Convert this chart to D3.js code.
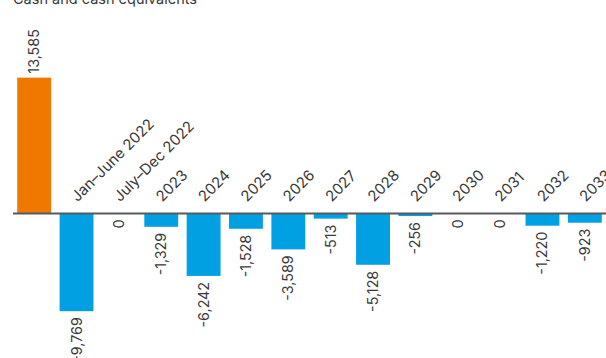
<!DOCTYPE html>
<html>
<head>
<meta charset="utf-8">
<script src="https://cdn.jsdelivr.net/npm/d3@7"></script>
<style>
  body { margin: 0; background: #fff; }
  text { font-family: Inter, "Noto Sans", sans-serif; fill: #3a3a3a; }
</style>
</head>
<body>
<div class="app"></div>
<script>
'use strict'

// data
var title = "Cash and cash equivalents";
var categories = ["Cash", "Jan–June 2022", "July–Dec 2022", "2023", "2024", "2025", "2026",
                  "2027", "2028", "2029", "2030", "2031", "2032", "2033"];
var values = [13585, -9769, 0, -1329, -6242, -1528, -3589, -513, -5128, -256, 0, 0, -1220, -923];

var width = 606, height = 358;

var fmt = d3.formatLocale({decimal: ".", thousands: ",", grouping: [3], currency: ["", ""], minus: "-"}).format(",");

var svg = d3.select(".app").append("svg")
  .attr("width", width)
  .attr("height", height);

var x = d3.scaleBand()
  .domain(d3.range(values.length))
  .range([13, 606])
  .paddingInner(0.2)
  .paddingOuter(0.1);

var y = d3.scaleLinear()
  .domain([-10000, 14000])
  .range([313.5, 73.5]);

// title (cut off at the top)
svg.append("text")
  .attr("x", 13)
  .attr("y", 3.5)
  .style("font-size", "14.5px")
  .text(title);

// bars
svg.selectAll("rect.bar")
  .data(values)
  .enter().append("rect")
  .attr("class", "bar")
  .attr("x", function(d, i) { return x(i); })
  .attr("width", x.bandwidth())
  .attr("y", function(d) { return y(Math.max(0, d)); })
  .attr("height", function(d) { return Math.abs(y(d) - y(0)); })
  .attr("fill", function(d, i) { return i === 0 ? "#f07800" : "#00a0e2"; });

// baseline
svg.append("line")
  .attr("x1", 13)
  .attr("x2", 606)
  .attr("y1", y(0))
  .attr("y2", y(0))
  .attr("stroke", "#555a5e")
  .attr("stroke-width", 2);

// value labels, rotated
svg.selectAll("text.val")
  .data(values)
  .enter().append("text")
  .attr("class", "val")
  .style("font-size", "14.3px")
  .attr("text-anchor", function(d) { return d > 0 ? "start" : "end"; })
  .attr("dy", "0.35em")
  .attr("transform", function(d, i) {
    var cx = x(i) + x.bandwidth() / 2;
    var cy = d > 0 ? y(d) - 4 : y(Math.min(0, d)) + 6;
    return "translate(" + cx + "," + cy + ") rotate(-90)";
  })
  .text(function(d) { return fmt(d); });

// category labels, 45 degrees
svg.selectAll("text.cat")
  .data(categories.slice(1))
  .enter().append("text")
  .attr("class", "cat")
  .style("font-size", "15px")
  .attr("text-anchor", "start")
  .attr("transform", function(d, i) {
    var cx = x(i + 1) + x.bandwidth() / 2 + 1;
    return "translate(" + cx + "," + (y(0) - 11) + ") rotate(-45)";
  })
  .text(function(d) { return d; });
</script>
</body>
</html>
